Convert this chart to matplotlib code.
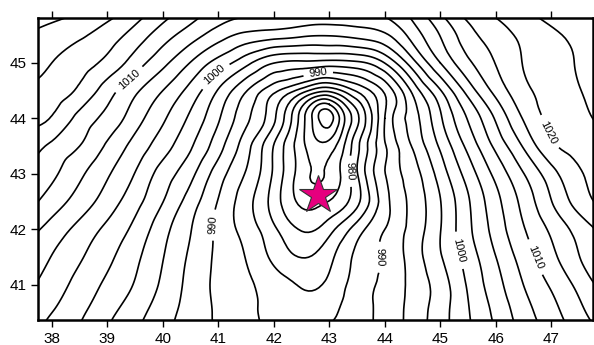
import matplotlib
matplotlib.use('Agg')
import matplotlib.pyplot as plt
import matplotlib.tri as mtri
import numpy as np

plt.rcParams['font.family'] = ['Liberation Sans', 'DejaVu Sans']

# Sea level pressure (hPa) on a half degree grid
lons = [37.5, 38, 38.5, 39, 39.5, 40, 40.5, 41, 41.5, 42, 42.5,
        43, 43.5, 44, 44.5, 45, 45.5, 46, 46.5, 47, 47.5, 48]
lats = [40, 40.5, 41, 41.5, 42, 42.5, 43, 43.5, 44, 44.5, 45, 45.5, 46]

p_lat40_0 = [1003.2, 1001.1, 999.4, 997.0, 994.8, 992.8, 991.2, 989.7, 988.4, 987.4, 987.5,
             988.5, 989.2, 990.9, 993.5, 996.5, 999.3, 1002.3, 1005.3, 1007.9, 1010.3, 1012.5]
p_lat40_5 = [1004.4, 1002.5, 1000.5, 998.2, 996.0, 993.6, 991.5, 989.6, 988.1, 986.8, 986.3,
             987.0, 988.9, 990.8, 993.4, 996.4, 999.8, 1003.1, 1006.4, 1009.1, 1011.8, 1014.4]
p_lat41_0 = [1005.7, 1003.8, 1001.6, 999.5, 997.3, 994.5, 991.7, 989.4, 987.9, 986.3, 984.8,
             985.6, 988.6, 990.6, 993.25, 996.2, 1000.3, 1004, 1007.5, 1010.3, 1013.2, 1016.3]
p_lat41_5 = [1007, 1004.9, 1002.8, 1000.6, 998.1, 995.1, 992.05, 989.5, 987.4, 984.4, 982.45,
             984.3, 988.1, 990.4, 993.6, 997.25, 1001.1, 1004.95, 1008.6, 1011.8, 1014.9, 1017.9]
p_lat42_0 = [1008.8, 1006.5, 1004.2, 1001.9, 999.3, 995.9, 992.6, 989.4, 986.5, 983.0, 979.8,
             981.6, 986.25, 990, 993.4, 997.4, 1001.9, 1006, 1009.8, 1012.95, 1016, 1018.5]
p_lat42_5 = [1011.2, 1008.8, 1006.4, 1003.8, 1000.9, 997.55, 993.8, 989.85, 986.0, 981.4, 977.0,
             977.6, 981.8, 989.0, 993.2, 997.4, 1002.2, 1006.7, 1010.8, 1014.9, 1018.6, 1020.8]
p_lat43_0 = [1012.5, 1010.5, 1008, 1005.3, 1002.4, 998.9, 995.7, 991.2, 987.3, 982.1, 976.2,
             975.5, 982.3, 989.9, 993.9, 998.6, 1003.6, 1008.2, 1012.4, 1016.5, 1019.7, 1021]
p_lat43_5 = [1014.5, 1012, 1010, 1007.1, 1004.1, 1001.1, 997.8, 993.5, 988.5, 982.4, 975.8,
             973.6, 981.8, 989.7, 995.2, 1000.4, 1005.7, 1010.6, 1015.25, 1019.5, 1021, 1022]
p_lat44_0 = [1016, 1014.8, 1011.7, 1009.2, 1006.1, 1002.9, 999.5, 995.3, 990.6, 985.5, 976.25,
             968.8, 979.3, 990, 996.25, 1002.1, 1007.7, 1012.8, 1017.7, 1020.6, 1022, 1023]
p_lat44_5 = [1017.2, 1016.5, 1014.5, 1011.2, 1008.0, 1005, 1001.6, 997.3, 992.7, 988.2, 983.9,
             980.7, 985.4, 990.5, 998.1, 1004.8, 1011, 1015.8, 1019.3, 1021.1, 1022.4, 1023.5]
p_lat45_0 = [1018.6, 1017.5, 1016.1, 1014.3, 1011.3, 1008.2, 1004.9, 1001.5, 998.3, 995.1, 994.4,
             994.0, 994.5, 997.6, 1004.0, 1010.0, 1014.5, 1017.6, 1020.1, 1021.5, 1022.7, 1023.8]
p_lat45_5 = [1020.1, 1018.9, 1017.9, 1016.3, 1014, 1011.2, 1008.7, 1006.2, 1004.4, 1003.7, 1003.0,
             1002.7, 1003.3, 1004.6, 1008.5, 1012.6, 1016.5, 1018.8, 1020.6, 1022, 1023.3, 1024.5]
p_lat46_0 = [1023, 1021.8, 1020.5, 1019.2, 1017, 1014.2, 1011.9, 1009.6, 1008.7, 1008.3, 1008.1,
             1008, 1008.2, 1008.7, 1011.4, 1016.1, 1019, 1020.9, 1022.5, 1024, 1025.5, 1026.5]

# extra readings around the centre of the low
core_lon = [42.93, 42.75, 43.25, 43.0, 43.0, 42.75, 43.25, 42.75, 43.25]
core_lat = [44.05, 44.0, 44.0, 44.25, 43.75, 44.25, 44.25, 43.75, 43.75]
core_p = [968.5, 971.2, 974.3, 972.5, 971.0, 973.5, 977.0, 972.0, 975.5]

levels = np.arange(955, 1030, 2.5)
label_levels = [980, 990, 1000, 1010, 1020]
# where the labels sit on the map (lon, lat)
label_spots = [(39.37, 44.72), (40.89, 44.83), (42.80, 44.81), (40.89, 42.08),
               (43.21, 43.02), (43.93, 41.50), (45.36, 41.63), (46.71, 41.50),
               (46.92, 43.73)]

star_lon, star_lat = 42.8, 42.62

pressure = np.array([p_lat40_0, p_lat40_5, p_lat41_0, p_lat41_5, p_lat42_0, p_lat42_5,
                     p_lat43_0, p_lat43_5, p_lat44_0, p_lat44_5, p_lat45_0, p_lat45_5,
                     p_lat46_0])
lon_grid, lat_grid = np.meshgrid(lons, lats)

pt_lon = np.concatenate([lon_grid.ravel(), core_lon])
pt_lat = np.concatenate([lat_grid.ravel(), core_lat])
pt_p = np.concatenate([pressure.ravel(), core_p])

# smooth the readings with matplotlib's cubic (min energy) refiner
triang = mtri.Triangulation(pt_lon, pt_lat)
interp = mtri.CubicTriInterpolator(triang, pt_p, kind='min_E')
refiner = mtri.UniformTriRefiner(triang)
tri_fine, p_fine = refiner.refine_field(pt_p, triinterpolator=interp, subdiv=3)

fig = plt.figure(figsize=(5.94, 3.45), dpi=100)
ax = fig.add_axes([0.064, 0.0725, 0.934, 0.876])

plain_levels = [lv for lv in levels if lv not in label_levels]
ax.tricontour(tri_fine, p_fine, levels=plain_levels, colors='black', linewidths=1.2)
cs = ax.tricontour(tri_fine, p_fine, levels=label_levels, colors='black', linewidths=1.2)
ax.clabel(cs, manual=label_spots, fmt='%d', fontsize=8, inline=True)

ax.plot(star_lon, star_lat, marker='*', markersize=29, color='#E6007E',
        markeredgecolor='#333333', markeredgewidth=0.8, zorder=5)

ax.set_xlim(37.75, 47.75)
ax.set_ylim(40.37, 45.81)
ax.set_xticks(range(38, 48))
ax.set_yticks(range(41, 46))
ax.tick_params(direction='out', top=True, labeltop=False, length=5, width=1,
               labelsize=11)
for side in ['left', 'right', 'top', 'bottom']:
    ax.spines[side].set_linewidth(1.8)

fig.savefig('out.png', dpi=100)
